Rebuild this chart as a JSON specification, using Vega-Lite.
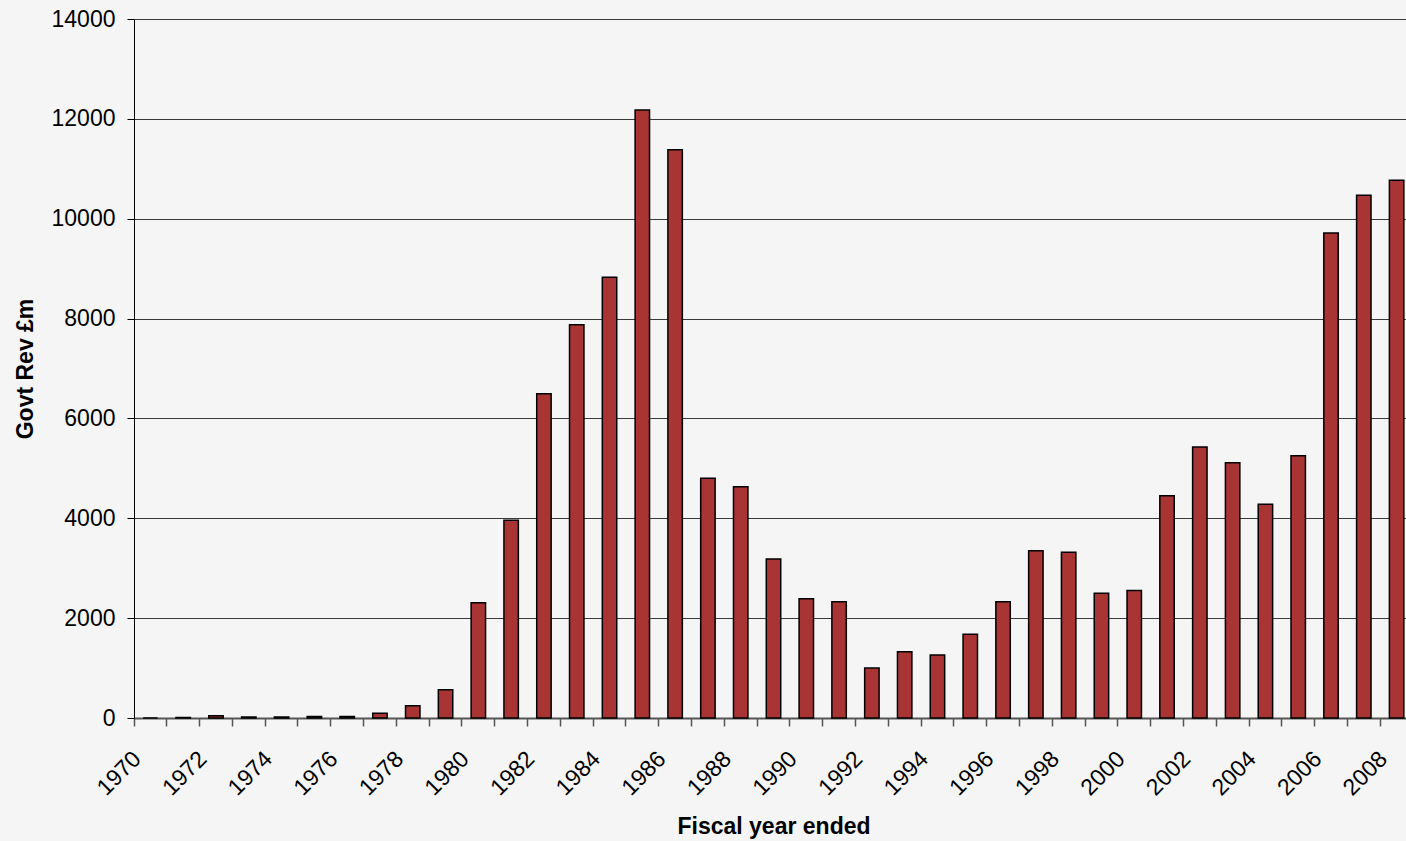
{
  "$schema": "https://vega.github.io/schema/vega-lite/v6.json",
  "width": 1279,
  "height": 699,
  "autosize": {"type": "none"},
  "padding": {"left": 134, "top": 19, "right": -7, "bottom": 123},
  "background": "#f5f5f5",
  "config": {
    "view": {"stroke": null},
    "font": "Liberation Sans"
  },
  "data": {
    "values": [
      {"year": 1970, "rev": 0},
      {"year": 1971, "rev": 10},
      {"year": 1972, "rev": 45},
      {"year": 1973, "rev": 20},
      {"year": 1974, "rev": 20},
      {"year": 1975, "rev": 30},
      {"year": 1976, "rev": 30},
      {"year": 1977, "rev": 95},
      {"year": 1978, "rev": 245},
      {"year": 1979, "rev": 565},
      {"year": 1980, "rev": 2310},
      {"year": 1981, "rev": 3960},
      {"year": 1982, "rev": 6495},
      {"year": 1983, "rev": 7877},
      {"year": 1984, "rev": 8830},
      {"year": 1985, "rev": 12177},
      {"year": 1986, "rev": 11382},
      {"year": 1987, "rev": 4800},
      {"year": 1988, "rev": 4632},
      {"year": 1989, "rev": 3185},
      {"year": 1990, "rev": 2390},
      {"year": 1991, "rev": 2330},
      {"year": 1992, "rev": 1000},
      {"year": 1993, "rev": 1328},
      {"year": 1994, "rev": 1262},
      {"year": 1995, "rev": 1676},
      {"year": 1996, "rev": 2330},
      {"year": 1997, "rev": 3351},
      {"year": 1998, "rev": 3318},
      {"year": 1999, "rev": 2500},
      {"year": 2000, "rev": 2555},
      {"year": 2001, "rev": 4452},
      {"year": 2002, "rev": 5428},
      {"year": 2003, "rev": 5113},
      {"year": 2004, "rev": 4280},
      {"year": 2005, "rev": 5254},
      {"year": 2006, "rev": 9713},
      {"year": 2007, "rev": 10468},
      {"year": 2008, "rev": 10769}
    ]
  },
  "mark": {
    "type": "bar",
    "width": {"band": 0.44},
    "fill": "#a93434",
    "stroke": "#000000",
    "strokeWidth": 1.5
  },
  "encoding": {
    "x": {
      "field": "year",
      "type": "ordinal",
      "scale": {"paddingInner": 0, "paddingOuter": 0},
      "axis": {
        "title": "Fiscal year ended",
        "titleFont": "Liberation Sans",
        "titleFontSize": 23,
        "titleFontWeight": "bold",
        "titleColor": "#000000",
        "titleY": 115,
        "titleBaseline": "alphabetic",
        "bandPosition": 0,
        "labelExpr": "datum.value % 2 == 0 ? datum.label : ''",
        "labelOverlap": false,
        "labelAngle": -45,
        "labelAlign": "right",
        "labelBaseline": "middle",
        "labelPadding": 29,
        "labelOffset": -13,
        "labelFont": "Liberation Sans",
        "labelFontSize": 23,
        "labelColor": "#000000",
        "tickSize": 8,
        "tickColor": "#555555",
        "tickWidth": 1.5,
        "domainColor": "#555555",
        "domainWidth": 2,
        "grid": false
      }
    },
    "y": {
      "field": "rev",
      "type": "quantitative",
      "scale": {"domain": [0, 14000], "nice": false},
      "axis": {
        "title": "Govt Rev £m",
        "titleFont": "Liberation Sans",
        "titleFontSize": 23,
        "titleFontWeight": "bold",
        "titleColor": "#000000",
        "titleAngle": -90,
        "titleX": -102,
        "titleBaseline": "alphabetic",
        "values": [0, 2000, 4000, 6000, 8000, 10000, 12000, 14000],
        "format": "d",
        "labelFont": "Liberation Sans",
        "labelFontSize": 23,
        "labelColor": "#000000",
        "labelPadding": 12,
        "tickSize": 7,
        "tickColor": "#000000",
        "domainColor": "#000000",
        "grid": true,
        "gridColor": "#3a3a3a",
        "gridWidth": 1,
        "gridOpacity": 1
      }
    }
  }
}
